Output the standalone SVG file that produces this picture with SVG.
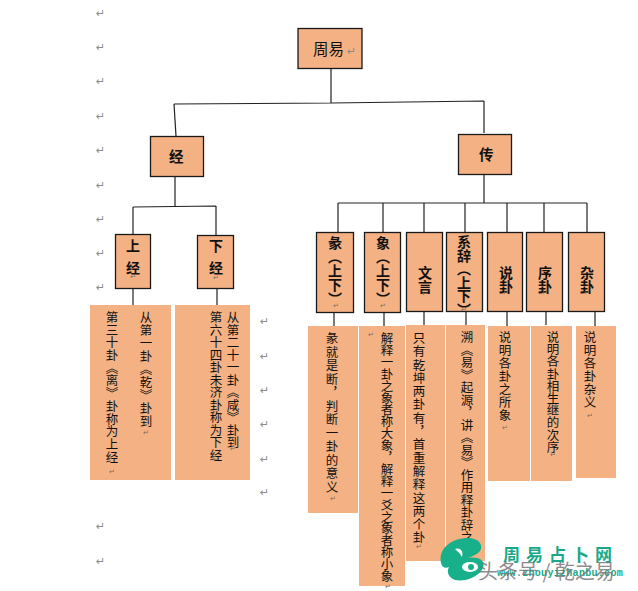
<svg xmlns="http://www.w3.org/2000/svg" width="638" height="591" viewBox="0 0 638 591">
<style>
.b{fill:#f4b183;stroke:#1a1a1a;stroke-width:1.3}
.p{fill:#f4b183}
text{font-family:"Noto Sans CJK SC","Liberation Sans",sans-serif;fill:#111}
.v{writing-mode:vertical-rl;font-size:12.5px;text-anchor:start}
.h{writing-mode:vertical-rl;font-size:14px;font-weight:700;text-anchor:start}
.m{font-family:"DejaVu Sans",sans-serif;font-size:11px;fill:#8a8a8a}
.s{font-family:"DejaVu Sans",sans-serif;font-size:7px;fill:#7a6a5a;text-anchor:middle}
.c path{fill:none;stroke:#222;stroke-width:1.2}
</style>
<rect width="638" height="591" fill="#fff"/>
<g class="c" id="connectors">
<path d="M331 68V103M174 104L331 103L484 101M174 104L176 136M484 101V133"/>
<path d="M175 176V206M133 207L216 206M133 207V234M216 206V235M133 288V305M217 289V305"/>
<path d="M484 174V203M338 203H587M338 203V232M383 203V232M424 203V232M465 203V232M507 203V232M544 203V232M587 203V232"/>
<path d="M334 312V326M384 312V326M424 311V325M466 311V325M507 311V326M546 311V325M595 311V326"/>
</g>
<g id="n-zhouyi"><rect class="b" x="298" y="28.500" width="64" height="40"/><text x="313" y="55" font-size="15.500">周易</text></g>
<g id="n-jing"><rect class="b" x="150.500" y="136.500" width="53" height="40"/><text x="169" y="162" font-size="14.500" font-weight="700">经</text></g>
<g id="n-zhuan"><rect class="b" x="458.500" y="134.500" width="53" height="40"/><text x="479" y="160" font-size="14.500" font-weight="700">传</text></g>
<g id="n-shangjing"><rect class="b" x="115.500" y="234.500" width="35" height="54"/><text class="h" x="133" y="239" letter-spacing="8">上经</text></g>
<g id="n-xiajing"><rect class="b" x="197.500" y="235.500" width="36" height="53"/><text class="h" x="216" y="239" letter-spacing="8">下经</text></g>
<g id="n-tuan"><rect class="b" x="316.500" y="232.500" width="37" height="80"/><text class="h" x="335" y="236" font-size="13" letter-spacing="0">彖（上下）</text></g>
<g id="n-xiang"><rect class="b" x="364.500" y="232.500" width="36" height="80"/><text class="h" x="383" y="236" letter-spacing="0">象（上下）</text></g>
<g id="n-wenyan"><rect class="b" x="406.500" y="232.500" width="36" height="79"/><text class="h" x="425" y="266">文言</text></g>
<g id="n-xici"><rect class="b" x="446.500" y="232.500" width="36" height="79"/><text class="h" x="464" y="235" letter-spacing="-0.500">系辞（上下）</text></g>
<g id="n-shuogua"><rect class="b" x="487.500" y="232.500" width="35" height="79"/><text class="h" x="506" y="266">说卦</text></g>
<g id="n-xugua"><rect class="b" x="526.500" y="232.500" width="36" height="79"/><text class="h" x="545" y="266">序卦</text></g>
<g id="n-zagua"><rect class="b" x="568.500" y="232.500" width="36" height="79"/><text class="h" x="587" y="266">杂卦</text></g>
<g id="t-shangjing"><rect class="p" x="90" y="305" width="81" height="175"/><text class="v" x="146" y="311" letter-spacing="0.500">从第一卦《乾》卦到</text><text class="v" x="112" y="311" letter-spacing="0.200">第三十卦《离》卦称为上经</text></g>
<g id="t-xiajing"><rect class="p" x="175" y="305" width="75" height="175"/><text class="v" x="233" y="311">从第二十一卦《咸》卦到</text><text class="v" x="216" y="311">第六十四卦未济卦称为下经</text></g>
<g id="t-tuan"><rect class="p" x="308" y="326" width="50" height="187"/><text class="v" x="332" y="332" letter-spacing="1">彖就是断，判断一卦的意义</text></g>
<g id="t-xiang"><rect class="p" x="359" y="326" width="46" height="260"/><text class="v" x="387" y="332" letter-spacing="-0.600">解释一卦之象者称大象，解释一爻之象者称小象</text></g>
<g id="t-wenyan"><rect class="p" x="406" y="325" width="39" height="236"/><text class="v" x="419" y="332" letter-spacing="0.800">只有乾坤两卦有，首重解释这两个卦</text></g>
<g id="t-xici"><rect class="p" x="446" y="325" width="39" height="236"/><text class="v" x="467" y="331" letter-spacing="0">溯《易》起源，讲《易》作用释卦辞之义</text></g>
<g id="t-shuogua"><rect class="p" x="488" y="326" width="42" height="155"/><text class="v" x="505" y="331" letter-spacing="0.500">说明各卦之所象</text></g>
<g id="t-xugua"><rect class="p" x="531" y="326" width="41" height="155"/><text class="v" x="553" y="331" letter-spacing="-0.300">说明各卦相生继的次序</text></g>
<g id="t-zagua"><rect class="p" x="576" y="326" width="40" height="152"/><text class="v" x="590" y="331" letter-spacing="0.500">说明各卦杂义</text></g>
<g id="marks">
<text class="m" x="96" y="17">↵</text><text class="m" x="96" y="51">↵</text><text class="m" x="96" y="85">↵</text><text class="m" x="96" y="120">↵</text><text class="m" x="96" y="154">↵</text><text class="m" x="96" y="189">↵</text><text class="m" x="96" y="223">↵</text><text class="m" x="96" y="257">↵</text><text class="m" x="96" y="291">↵</text>
<text class="m" x="260" y="325">↵</text><text class="m" x="260" y="360">↵</text><text class="m" x="260" y="394">↵</text><text class="m" x="260" y="428">↵</text><text class="m" x="260" y="463">↵</text><text class="m" x="260" y="496">↵</text>
<text class="m" x="96" y="530">↵</text><text class="m" x="96" y="565">↵</text>
<text class="m" x="347" y="55">↵</text>
<text class="s" x="146" y="435">↵</text><text class="s" x="112" y="474">↵</text><text class="s" x="233" y="451">↵</text><text class="s" x="216" y="462">↵</text><text class="s" x="333" y="501">↵</text><text class="s" x="388" y="589">↵</text><text class="s" x="419" y="549">↵</text><text class="s" x="505" y="430">↵</text><text class="s" x="553" y="457">↵</text><text class="s" x="590" y="418">↵</text><text class="s" x="371" y="337">↵</text>
<text class="s" x="133" y="279">↵</text><text class="s" x="216" y="280">↵</text><text class="s" x="336" y="308">↵</text><text class="s" x="383" y="308">↵</text><text class="s" x="425" y="296">↵</text><text class="s" x="464" y="312">↵</text><text class="s" x="506" y="295">↵</text><text class="s" x="545" y="295">↵</text><text class="s" x="587" y="295">↵</text>
</g>
<g id="watermark">
<path d="M441 563C438 548 452 538 468 538C474 538 479 540 481 545C483 552 474 556 468 558C478 556 486 560 483 568C478 578 464 582 455 580C449 578 446 572 449 567C445 569 442 567 441 563Z" fill="#17b08a"/>
<ellipse cx="470" cy="567" rx="8" ry="5" fill="#fff"/>
<circle cx="471" cy="567" r="3" fill="#17b08a"/>
<path d="M455 549C460 547 464 551 462 557C460 553 458 552 455 549Z" fill="#fff"/>
<text x="503" y="561" font-size="17" font-weight="700" letter-spacing="6" style="fill:#19a98a">周易占卜网</text>
<text x="497" y="576" font-size="10" font-weight="700" letter-spacing="0.300" style="font-family:'Liberation Mono',monospace;fill:#19a98a">www.zhouyizhanbu.com</text>
<text x="478" y="579" font-size="20" style="fill:#777;fill-opacity:.85">头条号 / 乾之易</text>
</g>
</svg>
